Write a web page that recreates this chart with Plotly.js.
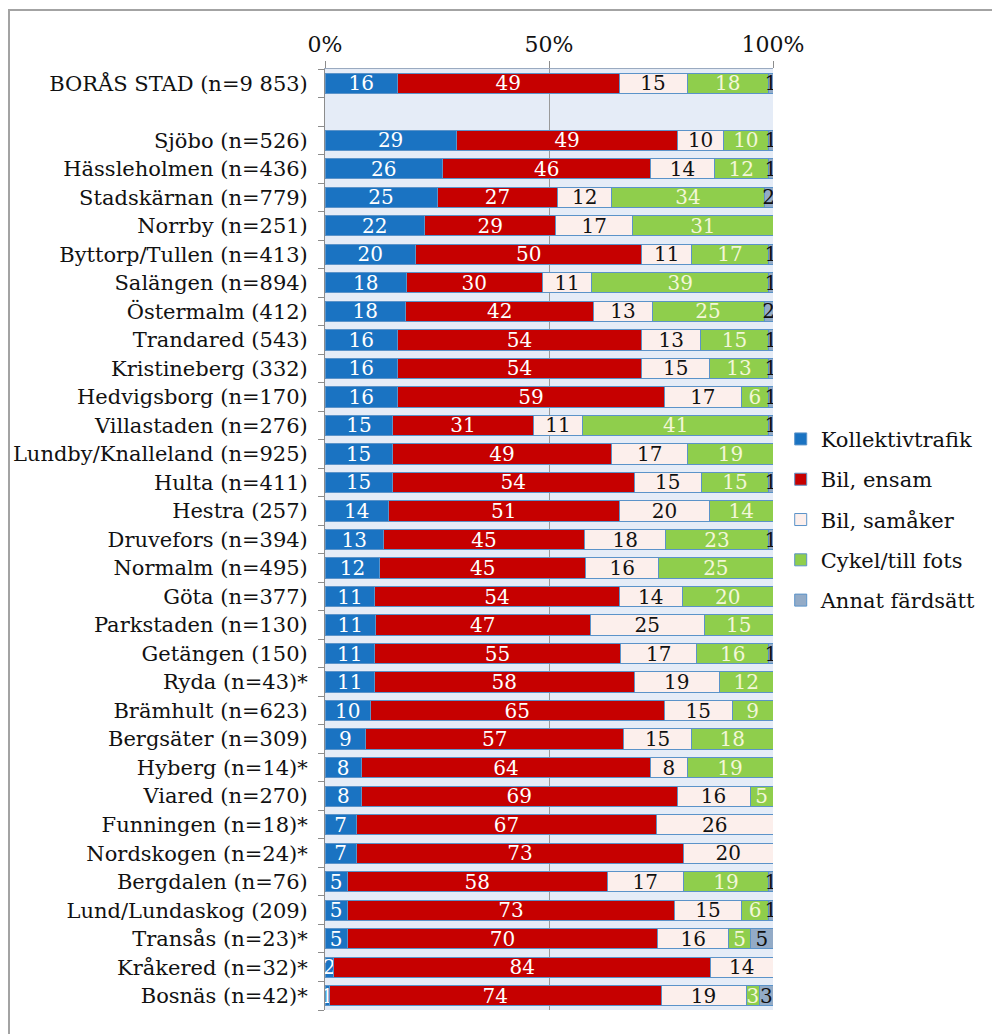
<!DOCTYPE html>
<html>
<head>
<meta charset="utf-8">
<script src="https://cdn.plot.ly/plotly-3.0.1.min.js"></script>
<style>
html,body{margin:0;padding:0;background:#fff;overflow:hidden;}
#wrap{position:relative;width:992px;height:1034px;}
#chart{position:absolute;left:0;top:0;width:992px;height:1034px;}
#frame{position:absolute;left:8px;top:9px;width:1000px;height:1100px;border:2px solid #a3a3a3;pointer-events:none;}
</style>
</head>
<body>
<div id="wrap"><div id="chart"></div><div id="frame"></div></div>
<script>
// Categories (top to bottom); ' ' is the empty spacer row
const categories = [
  'BORÅS STAD (n=9 853)', ' ',
  'Sjöbo (n=526)', 'Hässleholmen (n=436)', 'Stadskärnan (n=779)', 'Norrby (n=251)',
  'Byttorp/Tullen (n=413)', 'Salängen (n=894)', 'Östermalm (412)', 'Trandared (543)',
  'Kristineberg (332)', 'Hedvigsborg (n=170)', 'Villastaden (n=276)', 'Lundby/Knalleland (n=925)',
  'Hulta (n=411)', 'Hestra (257)', 'Druvefors (n=394)', 'Normalm (n=495)',
  'Göta (n=377)', 'Parkstaden (n=130)', 'Getängen (150)', 'Ryda (n=43)*',
  'Brämhult (n=623)', 'Bergsäter (n=309)', 'Hyberg (n=14)*', 'Viared (n=270)',
  'Funningen (n=18)*', 'Nordskogen (n=24)*', 'Bergdalen (n=76)', 'Lund/Lundaskog (209)',
  'Transås (n=23)*', 'Kråkered (n=32)*', 'Bosnäs (n=42)*'
];
// rows with data (spacer excluded)
const areas = categories.filter(c => c !== ' ');

const kollektivtrafik = [16, 29,26,25,22,20,18,18,16,16,16,15,15,15,14,13,12,11,11,11,11,10,9,8,8,7,7,5,5,5,2,1];
const bilEnsam        = [49, 49,46,27,29,50,30,42,54,54,59,31,49,54,51,45,45,54,47,55,58,65,57,64,69,67,73,58,73,70,84,74];
const bilSamaker      = [15, 10,14,12,17,11,11,13,13,15,17,11,17,15,20,18,16,14,25,17,19,15,15,8,16,26,20,17,15,16,14,19];
const cykelTillFots   = [18, 10,12,34,31,17,39,25,15,13,6,41,19,15,14,23,25,20,15,16,12,9,18,19,5,0,0,19,6,5,0,3];
const annatFardsatt   = [1,  1,1,2,0,1,1,2,1,1,1,1,0,1,0,1,0,0,0,1,0,0,0,0,0,0,0,1,1,5,0,3];

const seriesNames  = ['Kollektivtrafik', 'Bil, ensam', 'Bil, samåker', 'Cykel/till fots', 'Annat färdsätt'];
const seriesValues = [kollektivtrafik, bilEnsam, bilSamaker, cykelTillFots, annatFardsatt];
const seriesColors = ['#1a73c2', '#c60000', '#fcefec', '#8fce4c', '#93abc7'];
const textColors   = ['#ffffff', '#ffffff', '#111111', '#f3f7d8', '#111111'];

const FONT = 'DejaVu Serif';

const traces = seriesValues.map((vals, i) => ({
  type: 'bar',
  orientation: 'h',
  name: seriesNames[i],
  legendgroup: 'g' + i,
  y: areas,
  x: vals,
  text: vals.map(v => v ? String(v) : ''),
  textposition: 'inside',
  insidetextanchor: 'middle',
  constraintext: 'none',
  textangle: 0,
  insidetextfont: {family: FONT, size: 20, color: textColors[i]},
  marker: {color: seriesColors[i], line: {color: '#5b93c9', width: 1}},
  hoverinfo: 'skip'
}));

const layout = {
  width: 992, height: 1034, autosize: false,
  paper_bgcolor: '#ffffff',
  plot_bgcolor: '#e5ecf7',
  margin: {l: 325, r: 219, t: 69, b: 24, pad: 0},
  barmode: 'stack',
  barnorm: 'percent',
  bargap: 0.29,
  font: {family: FONT, size: 21, color: '#111111'},
  showlegend: true,
  legend: {
    xref: 'container', yref: 'container',
    x: 0.787, y: 0.595, xanchor: 'left', yanchor: 'top',
    font: {family: FONT, size: 21, color: '#111111'},
    tracegroupgap: 10,
    traceorder: 'grouped',
    bgcolor: 'rgba(0,0,0,0)'
  },
  xaxis: {
    side: 'top', range: [0, 100], fixedrange: true,
    tickvals: [0, 50, 100], ticktext: ['0%', '50%', '100%'],
    ticks: 'outside', ticklen: 7, tickcolor: '#8c8c8c', tickwidth: 1,
    showgrid: true, gridcolor: '#9a9a9a', gridwidth: 1,
    zeroline: false, showline: true, linecolor: '#9aaac0', linewidth: 1,
    tickfont: {family: FONT, size: 22, color: '#111111'}
  },
  yaxis: {
    type: 'category', categoryorder: 'array', categoryarray: categories,
    tickmode: 'array', tickvals: categories, ticktext: categories,
    autorange: 'reversed', fixedrange: true,
    ticks: 'outside', tickson: 'boundaries', ticklen: 6, tickcolor: '#8c8c8c',
    showline: true, linecolor: '#8c8c8c', linewidth: 1,
    showgrid: false, zeroline: false,
    ticklabelstandoff: 12,
    tickfont: {family: FONT, size: 21, color: '#111111'}
  }
};

Plotly.newPlot('chart', traces, layout, {staticPlot: true, displayModeBar: false});
</script>
</body>
</html>
